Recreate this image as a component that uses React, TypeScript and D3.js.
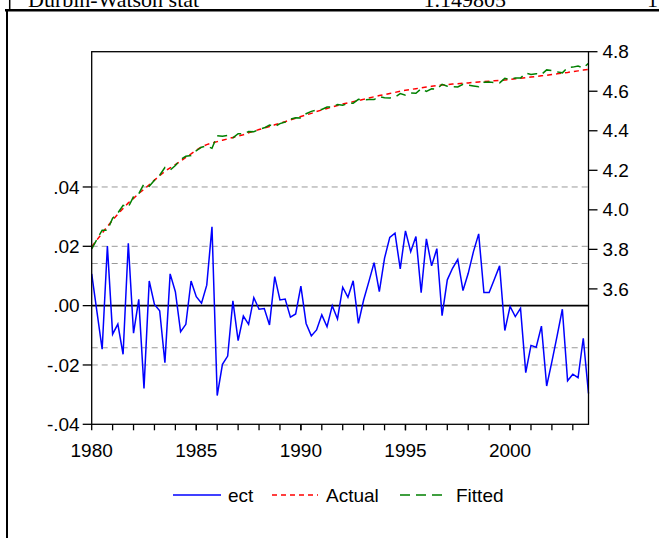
import React from "react";
import * as d3 from "d3";

const startYear = 1980;
const ect = [
  0.0107, -0.002, -0.0147, 0.0201, -0.0096, -0.0062, -0.0164, 0.021, -0.0093, 0.0021,
  -0.0279, 0.0083, 0.0004, -0.0017, -0.0192, 0.0107, 0.0047, -0.0088, -0.0063, 0.0083,
  0.003, 0.0008, 0.0069, 0.0266, -0.0303, -0.0198, -0.017, 0.0016, -0.0118, -0.0035,
  -0.0063, 0.0027, -0.0012, -0.001, -0.0065, 0.0098, 0.0019, 0.0022, -0.0039, -0.0028,
  0.0066, -0.006, -0.0102, -0.0082, -0.0031, -0.0071, 0.0, -0.0045, 0.0062, 0.0028,
  0.0084, -0.006, 0.0019, 0.0081, 0.0145, 0.0047, 0.016, 0.023, 0.0244, 0.0124,
  0.0252, 0.0182, 0.0233, 0.0044, 0.0225, 0.0134, 0.0192, -0.0034, 0.0087, 0.0126,
  0.0156, 0.0051, 0.0109, 0.0182, 0.0242, 0.0044, 0.0044, 0.0089, 0.0134, -0.0084,
  -0.0003, -0.0037, -0.0009, -0.0226, -0.0134, -0.014, -0.0069, -0.0271, -0.0189, -0.0102,
  -0.0012, -0.0253, -0.0231, -0.0243, -0.011, -0.0296,
];
const actual = [
  3.813, 3.848, 3.882, 3.916, 3.948, 3.978, 4.007, 4.035, 4.058, 4.083,
  4.104, 4.127, 4.15, 4.173, 4.195, 4.212, 4.229, 4.246, 4.265, 4.283,
  4.302, 4.318, 4.33, 4.338, 4.345, 4.352, 4.359, 4.366, 4.373, 4.38,
  4.39, 4.398, 4.406, 4.414, 4.422, 4.43, 4.438, 4.446, 4.455, 4.463,
  4.472, 4.48, 4.488, 4.497, 4.505, 4.513, 4.52, 4.528, 4.535, 4.541,
  4.547, 4.553, 4.559, 4.566, 4.572, 4.578, 4.583, 4.589, 4.594, 4.6,
  4.605, 4.609, 4.613, 4.617, 4.621, 4.625, 4.629, 4.632, 4.634, 4.636,
  4.638, 4.64, 4.642, 4.645, 4.647, 4.649, 4.651, 4.653, 4.655, 4.657,
  4.66, 4.663, 4.666, 4.669, 4.672, 4.675, 4.678, 4.681, 4.685, 4.688,
  4.692, 4.695, 4.699, 4.703, 4.707, 4.711,
];
const fitted = [
  3.802, 3.85, 3.897, 3.896, 3.958, 3.984, 4.023, 4.014, 4.067, 4.081,
  4.132, 4.119, 4.15, 4.175, 4.214, 4.201, 4.224, 4.255, 4.271, 4.275,
  4.299, 4.317, 4.323, 4.311, 4.375, 4.372, 4.376, 4.364, 4.385, 4.384,
  4.396, 4.395, 4.407, 4.415, 4.429, 4.42, 4.436, 4.444, 4.459, 4.466,
  4.465, 4.486, 4.498, 4.505, 4.508, 4.52, 4.52, 4.533, 4.529, 4.538,
  4.539, 4.559, 4.557, 4.558, 4.558, 4.573, 4.567, 4.566, 4.57, 4.588,
  4.58, 4.591, 4.59, 4.613, 4.599, 4.612, 4.61, 4.635, 4.625, 4.623,
  4.622, 4.635, 4.631, 4.627, 4.623, 4.645, 4.647, 4.644, 4.642, 4.665,
  4.66, 4.667, 4.667, 4.692, 4.685, 4.689, 4.685, 4.708, 4.704, 4.698,
  4.693, 4.72, 4.722, 4.727, 4.718, 4.741,
];
const leftTicks = [-0.04, -0.02, 0.0, 0.02, 0.04];
const leftTickLabels = ["-.04", "-.02", ".00", ".02", ".04"];
const rightTicks = [3.6, 3.8, 4.0, 4.2, 4.4, 4.6, 4.8];
const seBand = [0.0142, -0.0142];
const majorYears = [1980, 1985, 1990, 1995, 2000];
const minorYears = d3.range(1981, 2004);
const seriesNames = ["ect", "Actual", "Fitted"];
const headerLabel = "Durbin-Watson stat";
const headerValue = "1.149805";

const W = 659, H = 538;
const L = 91.7, R = 588.5, T = 51.7, B = 424.3;
const axisFont = "'Liberation Sans', Arial, sans-serif";
const serif = "'Liberation Serif', 'Times New Roman', serif";

export default function App() {
  const t = (i: number) => startYear + i / 4;
  const x = d3.scaleLinear().domain([1980, 2003.75]).range([L, R]);
  const yL = d3.scaleLinear().domain([-0.04, 0.0856]).range([B, T]);
  const yR = d3.scaleLinear().domain([2.915, 4.8]).range([B, T]);

  const lineL = d3.line<number>().x((_, i) => x(t(i))).y((d) => yL(d));
  const lineR = d3.line<number>().x((_, i) => x(t(i))).y((d) => yR(d));

  const colors = ["#0000ff", "#ff0000", "#008000"];
  const dashes = [undefined, "5,4", "10,6"];

  const legendItems = [
    { x1: 173, x2: 221, tx: 228 },
    { x1: 272, x2: 318, tx: 326 },
    { x1: 400, x2: 447, tx: 456 },
  ];

  return (
    <svg width={W} height={H} style={{ position: "absolute", left: 0, top: 0, background: "#fff" }}>
      <rect x={0} y={0} width={W} height={H} fill="#fff" />
      {/* header remnants (cut off at the top as in the reference) */}
      <text x={28} y={7} fontFamily={serif} fontSize={22} fill="#000">{headerLabel}</text>
      <text x={506} y={7} textAnchor="end" fontFamily={serif} fontSize={22} fill="#000">{headerValue}</text>
      <text x={647} y={7} fontFamily={serif} fontSize={22} fill="#000">1</text>
      <line x1={9.7} y1={0} x2={9.7} y2={9} stroke="#000" strokeWidth={1.5} />
      <line x1={5} y1={10.3} x2={W} y2={10.3} stroke="#000" strokeWidth={2.5} />
      <line x1={7} y1={9} x2={7} y2={H} stroke="#000" strokeWidth={2} />

      {/* gridlines */}
      {[0.04, 0.02, -0.02].map((v) => (
        <line key={"g" + v} x1={L} x2={R} y1={yL(v)} y2={yL(v)} stroke="#999" strokeWidth={1} strokeDasharray="6,4" />
      ))}
      {seBand.map((v) => (
        <line key={"s" + v} x1={L} x2={R} y1={yL(v)} y2={yL(v)} stroke="#999" strokeWidth={1} strokeDasharray="6,4" />
      ))}
      <line x1={L} x2={R} y1={yL(0)} y2={yL(0)} stroke="#000" strokeWidth={1.6} />

      {/* series */}
      <path d={lineL(ect) || ""} fill="none" stroke={colors[0]} strokeWidth={1.5} />
      <path d={lineR(actual) || ""} fill="none" stroke={colors[1]} strokeWidth={1.5} strokeDasharray={dashes[1]} />
      <path d={lineR(fitted) || ""} fill="none" stroke={colors[2]} strokeWidth={1.5} strokeDasharray={dashes[2]} />

      {/* frame */}
      <rect x={L} y={T} width={R - L} height={B - T} fill="none" stroke="#000" strokeWidth={1.3} />

      {/* left axis */}
      {leftTicks.map((v, k) => (
        <g key={"l" + v}>
          <line x1={L - 9} x2={L} y1={yL(v)} y2={yL(v)} stroke="#000" strokeWidth={1.3} />
          <text x={L - 12} y={yL(v)} dy="0.35em" textAnchor="end" fontFamily={axisFont} fontSize={19} fill="#000">{leftTickLabels[k]}</text>
        </g>
      ))}
      {/* right axis */}
      {rightTicks.map((v) => (
        <g key={"r" + v}>
          <line x1={R} x2={R + 9} y1={yR(v)} y2={yR(v)} stroke="#000" strokeWidth={1.3} />
          <text x={R + 14} y={yR(v)} dy="0.35em" textAnchor="start" fontFamily={axisFont} fontSize={19} fill="#000">{v.toFixed(1)}</text>
        </g>
      ))}
      {/* bottom axis */}
      {minorYears.map((yr) => (
        <line key={"m" + yr} x1={x(yr)} x2={x(yr)} y1={B} y2={B + 6} stroke="#000" strokeWidth={1.3} />
      ))}
      {majorYears.map((yr) => (
        <g key={"M" + yr}>
          <line x1={x(yr)} x2={x(yr)} y1={B} y2={B + 6} stroke="#000" strokeWidth={1.3} />
          <text x={x(yr)} y={457} textAnchor="middle" fontFamily={axisFont} fontSize={19} fill="#000">{yr}</text>
        </g>
      ))}

      {/* legend */}
      {legendItems.map((it, k) => (
        <g key={"lg" + k}>
          <line x1={it.x1} x2={it.x2} y1={495} y2={495} stroke={colors[k]} strokeWidth={1.5} strokeDasharray={dashes[k]} />
          <text x={it.tx} y={495} dy="0.35em" fontFamily={axisFont} fontSize={19} fill="#000">{seriesNames[k]}</text>
        </g>
      ))}
    </svg>
  );
}
